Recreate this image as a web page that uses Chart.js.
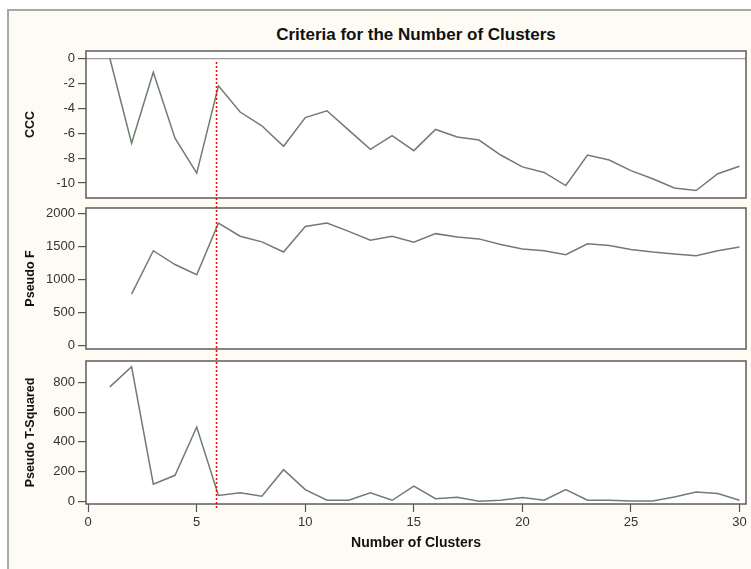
<!DOCTYPE html>
<html>
<head>
<meta charset="utf-8">
<script src="https://cdn.jsdelivr.net/npm/chart.js@4"></script>
<style>
  html, body { margin: 0; padding: 0; background: #fff; }
  #page { position: relative; width: 751px; height: 569px; overflow: hidden; }
  #frame { position: absolute; left: 7px; top: 9px; width: 760px; height: 580px;
           border-left: 2px solid #a9a9a9; border-top: 2px solid #a9a9a9; background: #fdfbf4; }
  #title { position: absolute; left: 86px; width: 660px; top: 25px; text-align: center;
           font: bold 17px "Liberation Sans", Arial, sans-serif; color: #111; }
  canvas { position: absolute; left: 0; top: 0; }
</style>
</head>
<body>
<div id="page">
  <div id="frame"></div>
  <div id="title">Criteria for the Number of Clusters</div>
  <canvas id="cccChart" width="751" height="569"></canvas>
  <canvas id="fChart" width="751" height="569"></canvas>
  <canvas id="tChart" width="751" height="569"></canvas>
</div>
<script>
// number of clusters on the x axis
const clusters = [1, 2, 3, 4, 5, 6, 7, 8, 9, 10, 11, 12, 13, 14, 15, 16, 17, 18, 19, 20,
                  21, 22, 23, 24, 25, 26, 27, 28, 29, 30];
const cccValues = [0, -6.8, -1.1, -6.4, -9.2, -2.2, -4.3, -5.4, -7.05, -4.75, -4.2, -5.75, -7.3, -6.2, -7.4,
                   -5.7, -6.3, -6.55, -7.75, -8.7, -9.15, -10.2, -7.75, -8.15, -9.0, -9.65, -10.4, -10.6, -9.25, -8.65];
const pseudoF = [null, 780, 1440, 1230, 1075, 1860, 1660, 1575, 1420, 1810, 1860, 1735, 1600, 1660, 1570,
                 1700, 1650, 1620, 1535, 1465, 1440, 1380, 1545, 1520, 1460, 1420, 1390, 1365, 1440, 1495];
const pseudoT2 = [770, 905, 115, 175, 500, 40, 58, 34, 213, 79, 7, 7, 58, 7, 103,
                  18, 27, 0, 7, 25, 7, 79, 7, 7, 2, 2, 29, 63, 52, 7];
const xTicks = [0, 5, 10, 15, 20, 25, 30];
const cccTicks = [0, -2, -4, -6, -8, -10];
const fTicks = [0, 500, 1000, 1500, 2000];
const t2Ticks = [0, 200, 400, 600, 800];
const cutoff = 5.87; // red dotted marker

const FONT = '"Liberation Sans", Arial, sans-serif';
const LINE = '#6f7d6f';

const panelFrame = {
  id: 'panelFrame',
  beforeDraw(chart) {
    const a = chart.chartArea, ctx = chart.ctx;
    ctx.save();
    ctx.fillStyle = '#ffffff';
    ctx.fillRect(a.left, a.top, a.right - a.left, a.bottom - a.top);
    ctx.restore();
  },
  afterDraw(chart) {
    const a = chart.chartArea, ctx = chart.ctx;
    ctx.save();
    ctx.strokeStyle = '#5c5c5c';
    ctx.lineWidth = 1.5;
    ctx.strokeRect(a.left, a.top, a.right - a.left, a.bottom - a.top);
    ctx.restore();
  }
};

const cutoffLine = {
  id: 'cutoffLine',
  afterDraw(chart) {
    const x = Math.round(chart.scales.x.getPixelForValue(cutoff)) + 0.5;
    const ctx = chart.ctx;
    ctx.save();
    ctx.strokeStyle = '#ff0000';
    ctx.lineWidth = 1.5;
    ctx.setLineDash([2, 2]);
    ctx.beginPath();
    ctx.moveTo(x, 62);
    ctx.lineTo(x, chart.chartArea.bottom + 6);
    ctx.stroke();
    ctx.restore();
  }
};

function points(values) {
  return clusters.map((c, i) => ({ x: c, y: values[i] }));
}

function panel(id, values, yMin, yMax, yTicks, yTitle, padTop, padBottom, isBottom, zeroLine) {
  const plugins = [panelFrame];
  if (isBottom) plugins.push(cutoffLine);
  return new Chart(document.getElementById(id), {
    type: 'line',
    data: {
      datasets: [{
        data: points(values),
        borderColor: LINE,
        borderWidth: 1.5,
        pointRadius: 0,
        tension: 0,
        fill: false
      }]
    },
    options: {
      responsive: false,
      animation: false,
      events: [],
      layout: { padding: { left: 19, right: 5, top: padTop, bottom: padBottom } },
      plugins: { legend: { display: false }, tooltip: { enabled: false } },
      scales: {
        x: {
          type: 'linear',
          display: isBottom,
          min: -0.1,
          max: 30.3,
          afterBuildTicks: s => { s.ticks = xTicks.map(v => ({ value: v })); },
          afterFit: s => { if (isBottom) s.height = 52; },
          ticks: { callback: v => String(v), color: '#333', font: { family: FONT, size: 13 }, padding: 3, maxRotation: 0 },
          grid: { drawOnChartArea: false, tickLength: 8, tickColor: '#555', tickWidth: 1.2 },
          border: { display: false },
          title: { display: true, text: 'Number of Clusters', color: '#111',
                   font: { family: FONT, size: 14, weight: 'bold' }, padding: { top: 4, bottom: 4 } }
        },
        y: {
          type: 'linear',
          min: yMin,
          max: yMax,
          afterBuildTicks: s => { s.ticks = yTicks.map(v => ({ value: v })); },
          afterFit: s => { s.width = 67; },
          ticks: { callback: v => String(v), color: '#333', font: { family: FONT, size: 13 }, padding: 3 },
          grid: {
            drawOnChartArea: zeroLine,
            color: ctx => (ctx.tick && ctx.tick.value === 0) ? '#9a9a9a' : 'rgba(0,0,0,0)',
            lineWidth: 1.2,
            tickLength: 8, tickColor: '#555', tickWidth: 1.2
          },
          border: { display: false },
          title: { display: true, text: yTitle, color: '#111',
                   font: { family: FONT, size: 12.5, weight: 'bold' }, padding: { top: 4, bottom: 4 } }
        }
      }
    },
    plugins: plugins
  });
}

panel('cccChart', cccValues, -11.2, 0.6, cccTicks, 'CCC', 51, 371, false, true);
panel('fChart', pseudoF, -55, 2090, fTicks, 'Pseudo F', 208, 220, false, false);
panel('tChart', pseudoT2, -18, 944, t2Ticks, 'Pseudo T-Squared', 361, 13, true, false);
</script>
</body>
</html>
